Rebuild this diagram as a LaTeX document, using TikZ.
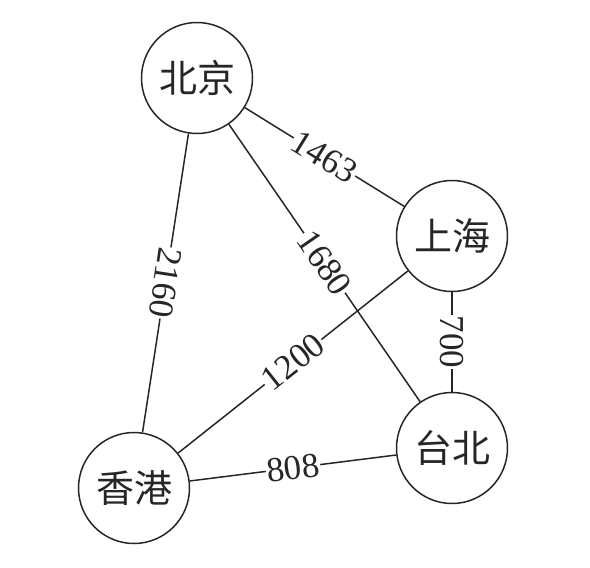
\documentclass[tikz,border=0pt]{standalone}
\usepackage{fontspec}
\setmainfont{Liberation Serif}
\newfontfamily\cjk{Noto Sans CJK SC}
\begin{document}
\begin{tikzpicture}[x=1pt,y=-1pt,
  city/.style={draw=black!85, circle, line width=1.5pt, minimum size=111pt, inner sep=0pt, text=black!85, font=\cjk\fontsize{38}{40}\selectfont},
  dist/.style={fill=white, inner sep=1pt, text=black!85, font=\fontsize{35}{36}\selectfont, sloped, allow upside down, midway},
  link/.style={draw=black!85, line width=1.5pt}]
\useasboundingbox (0,0) rectangle (590,568);
\node[city] (bj) at (197,78) {北京};
\node[city] (sh) at (452,236) {上海};
\node[city] (tp) at (452,448) {台北};
\node[city] (hk) at (134,488) {香港};
\draw[link] (bj) -- node[dist]{1463} (sh);
\draw[link] (bj) -- node[dist]{2160} (hk);
\draw[link] (bj) -- node[dist]{1680} (tp);
\draw[link] (hk) -- node[dist]{1200} (sh);
\draw[link] (sh) -- node[dist]{700} (tp);
\draw[link] (hk) -- node[dist]{808} (tp);
\end{tikzpicture}
\end{document}
